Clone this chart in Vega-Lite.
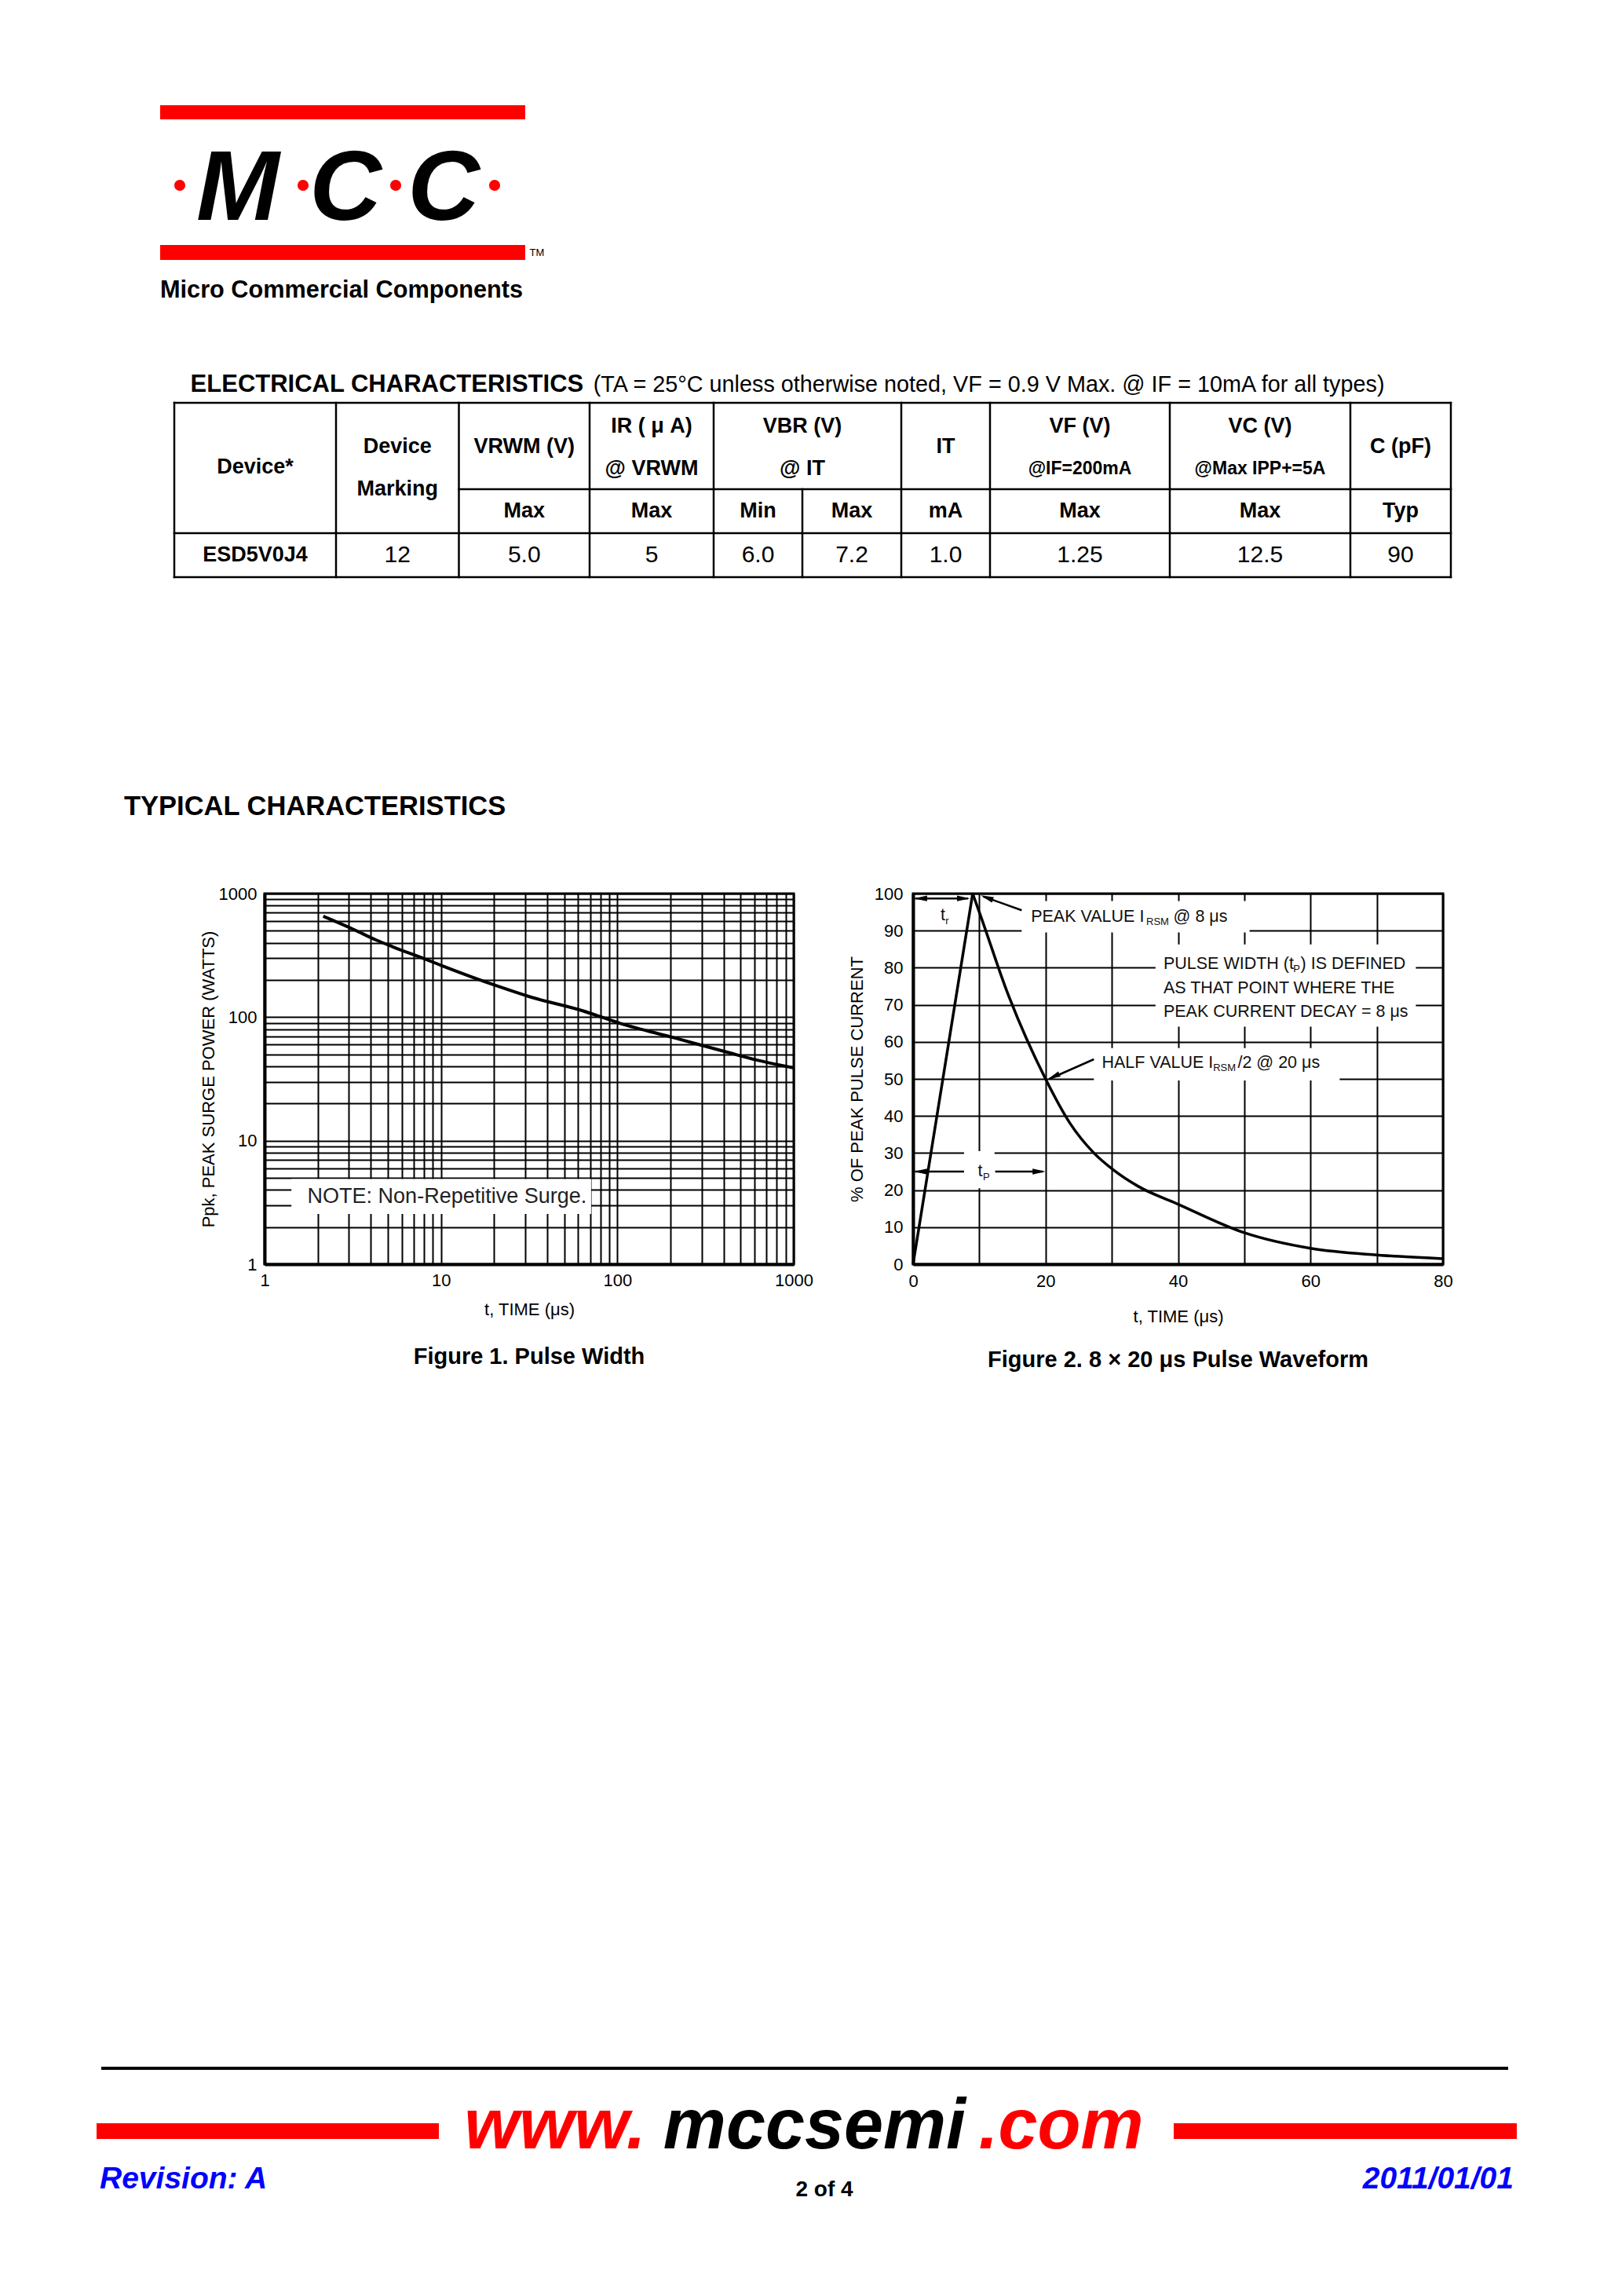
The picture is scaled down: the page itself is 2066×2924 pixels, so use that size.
{
"$schema":"https://vega.github.io/schema/vega-lite/v6.json",
"background":"white",
"padding":0,
"spacing":0,
"bounds":"flush",
"config":{
 "view":{"stroke":null},
 "font":"Liberation Sans",
 "concat":{"spacing":0},
 "title":{"color":"black","font":"Liberation Sans","fontWeight":"bold"},
 "axis":{"labelColor":"black","titleColor":"black","domainColor":"black","gridColor":"black","gridOpacity":1,"gridWidth":2,"domainWidth":4,"ticks":false,"labelFont":"Liberation Sans","titleFont":"Liberation Sans","labelFontSize":22,"titleFontSize":22,"titleFontWeight":"normal","labelOverlap":false,"labelBound":false,"labelFlush":false}
},
"datasets":{
 "logo":[{"i":0,"kind":"dot"},{"i":1,"kind":"letter","ch":"M"},{"i":2,"kind":"dot"},{"i":3,"kind":"letter","ch":"C"},{"i":4,"kind":"dot"},{"i":5,"kind":"letter","ch":"C"},{"i":6,"kind":"dot"}],
 "tableLines":[{"x":0,"x2":10,"y":0,"y2":0},{"x":2,"x2":10,"y":1,"y2":1},{"x":0,"x2":10,"y":2,"y2":2},{"x":0,"x2":10,"y":3,"y2":3},{"x":0,"x2":0,"y":0,"y2":3},{"x":1,"x2":1,"y":0,"y2":3},{"x":2,"x2":2,"y":0,"y2":3},{"x":3,"x2":3,"y":0,"y2":3},{"x":4,"x2":4,"y":0,"y2":3},{"x":5,"x2":5,"y":1,"y2":3},{"x":6,"x2":6,"y":0,"y2":3},{"x":7,"x2":7,"y":0,"y2":3},{"x":8,"x2":8,"y":0,"y2":3},{"x":9,"x2":9,"y":0,"y2":3},{"x":10,"x2":10,"y":0,"y2":3}],
 "tableText":[
  {"t":"ELECTRICAL CHARACTERISTICS","x":0.1,"y":-0.5,"role":"titleBold"},
  {"t":"(TA = 25°C unless otherwise noted, VF = 0.9 V Max. @ IF = 10mA for all types)","x":3.03,"y":-0.5,"role":"title"},
  {"t":"Device*","x":0.5,"y":0.745,"role":"head"},
  {"t":"Device","x":1.5,"y":0.51,"role":"head"},
  {"t":"Marking","x":1.5,"y":1.0,"role":"head"},
  {"t":"VRWM (V)","x":2.5,"y":0.51,"role":"head"},
  {"t":"IR ( μ A)","x":3.5,"y":0.27,"role":"head"},
  {"t":"@ VRWM","x":3.5,"y":0.76,"role":"head"},
  {"t":"VBR (V)","x":5,"y":0.27,"role":"head"},
  {"t":"@ IT","x":5,"y":0.76,"role":"head"},
  {"t":"IT","x":6.5,"y":0.51,"role":"head"},
  {"t":"VF (V)","x":7.5,"y":0.27,"role":"head"},
  {"t":"@IF=200mA","x":7.5,"y":0.76,"role":"headSmall"},
  {"t":"VC (V)","x":8.5,"y":0.27,"role":"head"},
  {"t":"@Max IPP+=5A","x":8.5,"y":0.76,"role":"headSmall"},
  {"t":"C (pF)","x":9.5,"y":0.51,"role":"head"},
  {"t":"Max","x":2.5,"y":1.5,"role":"head"},
  {"t":"Max","x":3.5,"y":1.5,"role":"head"},
  {"t":"Min","x":4.5,"y":1.5,"role":"head"},
  {"t":"Max","x":5.5,"y":1.5,"role":"head"},
  {"t":"mA","x":6.5,"y":1.5,"role":"head"},
  {"t":"Max","x":7.5,"y":1.5,"role":"head"},
  {"t":"Max","x":8.5,"y":1.5,"role":"head"},
  {"t":"Typ","x":9.5,"y":1.5,"role":"head"},
  {"t":"ESD5V0J4","x":0.5,"y":2.5,"role":"bodyBold"},
  {"t":"12","x":1.5,"y":2.5,"role":"body"},
  {"t":"5.0","x":2.5,"y":2.5,"role":"body"},
  {"t":"5","x":3.5,"y":2.5,"role":"body"},
  {"t":"6.0","x":4.5,"y":2.5,"role":"body"},
  {"t":"7.2","x":5.5,"y":2.5,"role":"body"},
  {"t":"1.0","x":6.5,"y":2.5,"role":"body"},
  {"t":"1.25","x":7.5,"y":2.5,"role":"body"},
  {"t":"12.5","x":8.5,"y":2.5,"role":"body"},
  {"t":"90","x":9.5,"y":2.5,"role":"body"}
 ],
 "fig1":[{"t":2.15,"p":655},{"t":3.2,"p":512},{"t":4.3,"p":420},{"t":5.3,"p":372},{"t":8.4,"p":290},{"t":10.2,"p":260},{"t":21,"p":178},{"t":32,"p":146},{"t":63,"p":113},{"t":104,"p":89},{"t":210,"p":68},{"t":420,"p":52},{"t":615,"p":45},{"t":1000,"p":38.8}],
 "fig1Box":[{"t":1.42,"t2":71,"p":2.55,"p2":4.9}],
 "fig1Text":[{"t":1.75,"p":3.52,"s":"NOTE: Non-Repetitive Surge."}],
 "fig2":[{"t":0,"v":0,"seg":"rise"},{"t":9,"v":100,"seg":"rise"},{"t":9,"v":100,"seg":"decay"},{"t":10.2,"v":94,"seg":"decay"},{"t":14.2,"v":73.5,"seg":"decay"},{"t":20,"v":50,"seg":"decay"},{"t":23.7,"v":38,"seg":"decay"},{"t":27.3,"v":30,"seg":"decay"},{"t":30.2,"v":25.5,"seg":"decay"},{"t":34,"v":21,"seg":"decay"},{"t":40,"v":16.2,"seg":"decay"},{"t":50,"v":8.5,"seg":"decay"},{"t":60,"v":4.3,"seg":"decay"},{"t":70,"v":2.5,"seg":"decay"},{"t":80,"v":1.5,"seg":"decay"}],
 "fig2Boxes":[{"t":16.4,"t2":50.8,"v":89.5,"v2":98},{"t":36.6,"t2":75.9,"v":64.1,"v2":86.3},{"t":27.3,"t2":64.4,"v":49.6,"v2":58.3},{"t":7.7,"t2":12.3,"v":20.5,"v2":30.5}],
 "fig2Lines":[{"t":0.3,"t2":8.3,"v":98.7,"v2":98.7},{"t":16.4,"t2":10.6,"v":95.5,"v2":99.2},{"t":27.3,"t2":20.6,"v":55.3,"v2":50.0},{"t":0.3,"t2":7.7,"v":25,"v2":25},{"t":12.4,"t2":19.6,"v":25,"v2":25}],
 "fig2Heads":[{"t":0.15,"v":98.7,"kind":"left"},{"t":8.6,"v":98.7,"kind":"right"},{"t":0.15,"v":25,"kind":"left"},{"t":20,"v":25,"kind":"right"},{"t":10.2,"v":99.5,"kind":"peak"},{"t":20.3,"v":49.9,"kind":"half"}],
 "fig2Text":[
  {"s":"t","t":4.85,"v":94,"kind":"mainR"},
  {"s":"r","t":4.9,"v":92.6,"kind":"sub"},
  {"s":"PEAK VALUE I","t":17.8,"v":93.7,"kind":"main"},
  {"s":"RSM","t":35.2,"v":92.3,"kind":"sub"},
  {"s":"@ 8 μs","t":39.3,"v":93.7,"kind":"main"},
  {"s":"PULSE WIDTH (t","t":37.8,"v":81,"kind":"main"},
  {"s":"P","t":57.4,"v":79.6,"kind":"sub"},
  {"s":") IS DEFINED","t":58.5,"v":81,"kind":"main"},
  {"s":"AS THAT POINT WHERE THE","t":37.8,"v":74.4,"kind":"main"},
  {"s":"PEAK CURRENT DECAY = 8 μs","t":37.8,"v":68,"kind":"main"},
  {"s":"HALF VALUE I","t":28.5,"v":54.3,"kind":"main"},
  {"s":"RSM","t":45.3,"v":52.9,"kind":"sub"},
  {"s":"/2 @ 20 μs","t":49.0,"v":54.3,"kind":"main"},
  {"s":"t","t":10.5,"v":25,"kind":"mainR"},
  {"s":"P","t":10.55,"v":23.6,"kind":"sub"}
 ],
 "url":[{"part":"www","s":"www.","i":0.5},{"part":"mcc","s":"mccsemi","i":1.5},{"part":"com","s":".com","i":2.5}],
 "footer":[{"i":0,"s":"Revision: A"},{"i":1,"s":"2 of 4"},{"i":2,"s":"2011/01/01"}]
},
"vconcat":[
 {"width":2066,"height":134,"data":{"values":[{"k":0}]},"mark":{"type":"rect","opacity":0},"encoding":{}},
 {"hconcat":[
   {"width":204,"height":18,"data":{"values":[{"k":0}]},"mark":{"type":"rect","opacity":0},"encoding":{}},
   {"width":465,"height":18,"data":{"values":[{"k":0}]},"mark":{"type":"rect","color":"#ff0000"},"encoding":{}}
  ],"spacing":0,"bounds":"flush"},
 {"width":2066,"height":18,"data":{"values":[{"k":0}]},"mark":{"type":"rect","opacity":0},"encoding":{}},
 {"hconcat":[
   {"width":204,"height":160,"data":{"values":[{"k":0}]},"mark":{"type":"rect","opacity":0},"encoding":{}},
   {"width":465,"height":160,"data":{"name":"logo"},
    "encoding":{"x":{"field":"i","type":"quantitative","scale":{"domain":[0,1,2,3,4,5,6],"range":[25,99,182,236,300,361,426],"nice":false,"zero":false},"axis":null}},
    "layer":[
     {"transform":[{"filter":"datum.kind=='dot'"}],"mark":{"type":"point","filled":true,"color":"#ff0000","opacity":1,"size":200,"yOffset":4}},
     {"transform":[{"filter":"datum.kind=='letter'"}],"mark":{"type":"text","font":"Liberation Sans","fontSize":127,"fontWeight":"bold","fontStyle":"italic","color":"black","baseline":"alphabetic","dy":48},"encoding":{"text":{"field":"ch"}}}
    ]}
  ],"spacing":0,"bounds":"flush"},
 {"width":2066,"height":160,"data":{"values":[{"k":0}]},"mark":{"type":"rect","opacity":0},"encoding":{}},
 {"hconcat":[
   {"width":204,"height":19,"data":{"values":[{"k":0}]},"mark":{"type":"rect","opacity":0},"encoding":{}},
   {"width":465,"height":19,"data":{"values":[{"tm":"TM"}]},
    "title":{"text":"Micro Commercial Components","orient":"bottom","anchor":"start","fontSize":30.7,"offset":24,"frame":"group"},
    "layer":[
     {"mark":{"type":"rect","color":"#ff0000"},"encoding":{}},
     {"mark":{"type":"text","align":"left","baseline":"middle","fontSize":13,"dx":238,"color":"black"},"encoding":{"text":{"field":"tm"}}}
    ]}
  ],"spacing":0,"bounds":"flush"},
 {"width":2066,"height":201,"data":{"values":[{"k":0}]},"mark":{"type":"rect","opacity":0},"encoding":{}},
 {"hconcat":[
   {"width":222,"height":222,"data":{"values":[{"k":0}]},"mark":{"type":"rect","opacity":0},"encoding":{}},
   {"width":1626,"height":222,
    "encoding":{
     "x":{"field":"x","type":"quantitative","scale":{"domain":[0,1,2,3,4,5,6,7,8,9,10],"range":[0,206,362.5,529,687,800,926,1039,1268,1498,1626],"nice":false,"zero":false},"axis":null},
     "y":{"field":"y","type":"quantitative","scale":{"domain":[-1,0,1,2,3],"range":[-46,0,110,166,222],"nice":false,"zero":false},"axis":null}
    },
    "layer":[
     {"data":{"name":"tableLines"},"mark":{"type":"rule","color":"black","strokeWidth":2.5,"strokeCap":"square"},"encoding":{"x2":{"field":"x2"},"y2":{"field":"y2"}}},
     {"data":{"name":"tableText"},"transform":[{"filter":"datum.role=='titleBold'"}],"mark":{"type":"text","align":"left","baseline":"middle","fontSize":31,"fontWeight":"bold","color":"black"},"encoding":{"text":{"field":"t"}}},
     {"data":{"name":"tableText"},"transform":[{"filter":"datum.role=='title'"}],"mark":{"type":"text","align":"left","baseline":"middle","fontSize":28.8,"color":"black"},"encoding":{"text":{"field":"t"}}},
     {"data":{"name":"tableText"},"transform":[{"filter":"datum.role=='head'"}],"mark":{"type":"text","align":"center","baseline":"middle","fontSize":27,"fontWeight":"bold","color":"black"},"encoding":{"text":{"field":"t"}}},
     {"data":{"name":"tableText"},"transform":[{"filter":"datum.role=='headSmall'"}],"mark":{"type":"text","align":"center","baseline":"middle","fontSize":23,"fontWeight":"bold","color":"black"},"encoding":{"text":{"field":"t"}}},
     {"data":{"name":"tableText"},"transform":[{"filter":"datum.role=='body'"}],"mark":{"type":"text","align":"center","baseline":"middle","fontSize":30,"color":"black"},"encoding":{"text":{"field":"t"}}},
     {"data":{"name":"tableText"},"transform":[{"filter":"datum.role=='bodyBold'"}],"mark":{"type":"text","align":"center","baseline":"middle","fontSize":27,"fontWeight":"bold","color":"black"},"encoding":{"text":{"field":"t"}}}
    ]}
  ],"spacing":0,"bounds":"flush"},
 {"width":2066,"height":625,"data":{"values":[{"k":0}]},"mark":{"type":"rect","opacity":0},"encoding":{}},
 {"hconcat":[
   {"width":337,"height":472,"data":{"values":[{"k":0}]},"mark":{"type":"rect","opacity":0},"encoding":{},
    "title":{"text":"TYPICAL CHARACTERISTICS","orient":"top","anchor":"start","fontSize":34.5,"dx":158,"offset":66,"baseline":"alphabetic","frame":"group"}},
   {"width":674,"height":472,
    "view":{"stroke":"black","strokeWidth":3},
    "title":{"text":"Figure 1. Pulse Width","orient":"bottom","anchor":"middle","fontSize":29,"offset":36},
    "encoding":{
     "x":{"field":"t","type":"quantitative","scale":{"type":"log","domain":[1,1000],"nice":false},
      "axis":{"values":[1,2,3,4,5,6,7,8,9,10,20,30,40,50,60,70,80,90,100,200,300,400,500,600,700,800,900,1000],"labelExpr":"indexof([1,10,100,1000], datum.value) >= 0 ? format(datum.value, 'd') : ''","title":"t, TIME (μs)","labelPadding":10,"titlePadding":16}},
     "y":{"field":"p","type":"quantitative","scale":{"type":"log","domain":[1,1000],"nice":false},
      "axis":{"values":[1,2,3,4,5,6,7,8,9,10,20,30,40,50,60,70,80,90,100,200,300,400,500,600,700,800,900,1000],"labelExpr":"indexof([1,10,100,1000], datum.value) >= 0 ? format(datum.value, 'd') : ''","title":"Ppk, PEAK SURGE POWER (WATTS)","labelPadding":10,"titlePadding":1}}
    },
    "layer":[
     {"data":{"name":"fig1Box"},"mark":{"type":"rect","fill":"white"},"encoding":{"x2":{"field":"t2"},"y2":{"field":"p2"}}},
     {"data":{"name":"fig1Text"},"mark":{"type":"text","align":"left","baseline":"middle","fontSize":27,"font":"Liberation Sans","color":"#222222"},"encoding":{"text":{"field":"s"}}},
     {"data":{"name":"fig1"},"mark":{"type":"line","color":"black","strokeWidth":4,"interpolate":"monotone"},"encoding":{}}
    ]},
   {"width":152,"height":472,"data":{"values":[{"k":0}]},"mark":{"type":"rect","opacity":0},"encoding":{}},
   {"width":675,"height":472,
    "view":{"stroke":"black","strokeWidth":3},
    "title":{"text":"Figure 2. 8 × 20 μs Pulse Waveform","orient":"bottom","anchor":"middle","fontSize":29,"offset":31},
    "encoding":{
     "x":{"field":"t","type":"quantitative","scale":{"domain":[0,80],"nice":false},
      "axis":{"values":[0,10,20,30,40,50,60,70,80],"labelExpr":"datum.value % 20 == 0 ? datum.label : ''","title":"t, TIME (μs)","labelPadding":11,"titlePadding":24}},
     "y":{"field":"v","type":"quantitative","scale":{"domain":[0,100],"nice":false},
      "axis":{"values":[0,10,20,30,40,50,60,70,80,90,100],"title":"% OF PEAK PULSE CURRENT","labelPadding":13,"titlePadding":10}}
    },
    "layer":[
     {"data":{"name":"fig2Boxes"},"mark":{"type":"rect","fill":"white"},"encoding":{"x2":{"field":"t2"},"y2":{"field":"v2"}}},
     {"data":{"name":"fig2"},"transform":[{"filter":"datum.seg=='rise'"}],"mark":{"type":"line","color":"black","strokeWidth":3.5},"encoding":{}},
     {"data":{"name":"fig2"},"transform":[{"filter":"datum.seg=='decay'"}],"mark":{"type":"line","color":"black","strokeWidth":3.5,"interpolate":"monotone"},"encoding":{}},
     {"data":{"name":"fig2Lines"},"mark":{"type":"rule","color":"black","strokeWidth":2.5},"encoding":{"x2":{"field":"t2"},"y2":{"field":"v2"}}},
     {"data":{"name":"fig2Heads"},"transform":[{"filter":"datum.kind=='left'"}],"mark":{"type":"point","shape":"M0,0L-1,-0.22L-1,0.22Z","filled":true,"color":"black","opacity":1,"size":1100,"angle":180}},
     {"data":{"name":"fig2Heads"},"transform":[{"filter":"datum.kind=='right'"}],"mark":{"type":"point","shape":"M0,0L-1,-0.22L-1,0.22Z","filled":true,"color":"black","opacity":1,"size":1100,"angle":0}},
     {"data":{"name":"fig2Heads"},"transform":[{"filter":"datum.kind=='peak'"}],"mark":{"type":"point","shape":"M0,0L-1,-0.22L-1,0.22Z","filled":true,"color":"black","opacity":1,"size":1100,"angle":200}},
     {"data":{"name":"fig2Heads"},"transform":[{"filter":"datum.kind=='half'"}],"mark":{"type":"point","shape":"M0,0L-1,-0.22L-1,0.22Z","filled":true,"color":"black","opacity":1,"size":1100,"angle":156}},
     {"data":{"name":"fig2Text"},"transform":[{"filter":"datum.kind=='main'"}],"mark":{"type":"text","align":"left","baseline":"middle","fontSize":21.5,"font":"Liberation Sans","color":"#111111"},"encoding":{"text":{"field":"s"}}},
     {"data":{"name":"fig2Text"},"transform":[{"filter":"datum.kind=='mainR'"}],"mark":{"type":"text","align":"right","baseline":"middle","fontSize":21.5,"font":"Liberation Sans","color":"#111111"},"encoding":{"text":{"field":"s"}}},
     {"data":{"name":"fig2Text"},"transform":[{"filter":"datum.kind=='sub'"}],"mark":{"type":"text","align":"left","baseline":"middle","fontSize":13,"font":"Liberation Sans","color":"#111111"},"encoding":{"text":{"field":"s"}}}
    ]}
  ],"spacing":0,"bounds":"flush"},
 {"width":2066,"height":1494,"data":{"values":[{"k":0}]},"mark":{"type":"rect","opacity":0},"encoding":{}},
 {"hconcat":[
   {"width":129,"height":4,"data":{"values":[{"k":0}]},"mark":{"type":"rect","opacity":0},"encoding":{}},
   {"width":1792,"height":4,"data":{"values":[{"k":0}]},"mark":{"type":"rect","color":"black"},"encoding":{}}
  ],"spacing":0,"bounds":"flush"},
 {"width":2066,"height":72,"data":{"values":[{"k":0}]},"mark":{"type":"rect","opacity":0},"encoding":{}},
 {"hconcat":[
   {"width":123,"height":20,"data":{"values":[{"k":0}]},"mark":{"type":"rect","opacity":0},"encoding":{}},
   {"width":436,"height":20,"data":{"values":[{"k":0}]},"mark":{"type":"rect","color":"#ff0000"},"encoding":{}},
   {"width":25,"height":20,"data":{"values":[{"k":0}]},"mark":{"type":"rect","opacity":0},"encoding":{}},
   {"width":874,"height":20,"data":{"name":"url"},
    "mark":{"type":"text","align":"center","baseline":"alphabetic","dy":22,"fontSize":90,"fontWeight":"bold","fontStyle":"italic"},
    "encoding":{
     "x":{"field":"i","type":"quantitative","scale":{"domain":[0,1,2,3],"range":[0,246,661,874],"nice":false,"zero":false},"axis":null},
     "text":{"field":"s"},
     "color":{"field":"part","type":"nominal","scale":{"domain":["www","mcc","com"],"range":["#ff0000","#000000","#ff0000"]},"legend":null}
    }},
   {"width":37,"height":20,"data":{"values":[{"k":0}]},"mark":{"type":"rect","opacity":0},"encoding":{}},
   {"width":437,"height":20,"data":{"values":[{"k":0}]},"mark":{"type":"rect","color":"#ff0000"},"encoding":{}}
  ],"spacing":0,"bounds":"flush"},
 {"width":2066,"height":54,"data":{"values":[{"k":0}]},"mark":{"type":"rect","opacity":0},"encoding":{}},
 {"hconcat":[
   {"width":123,"height":40,"data":{"values":[{"k":0}]},"mark":{"type":"rect","opacity":0},"encoding":{}},
   {"width":1809,"height":40,"data":{"name":"footer"},
    "encoding":{"x":{"field":"i","type":"quantitative","scale":{"domain":[0,1,2],"range":[4,927,1805],"nice":false,"zero":false},"axis":null},"text":{"field":"s"}},
    "layer":[
     {"transform":[{"filter":"datum.i==0"}],"mark":{"type":"text","align":"left","baseline":"middle","fontSize":39,"fontWeight":"bold","fontStyle":"italic","color":"#0000ff","dy":-3}},
     {"transform":[{"filter":"datum.i==1"}],"mark":{"type":"text","align":"center","baseline":"middle","fontSize":28,"fontWeight":"bold","color":"black","dy":11}},
     {"transform":[{"filter":"datum.i==2"}],"mark":{"type":"text","align":"right","baseline":"middle","fontSize":39,"fontWeight":"bold","fontStyle":"italic","color":"#0000ff","dy":-3}}
    ]}
  ],"spacing":0,"bounds":"flush"}
]
}
